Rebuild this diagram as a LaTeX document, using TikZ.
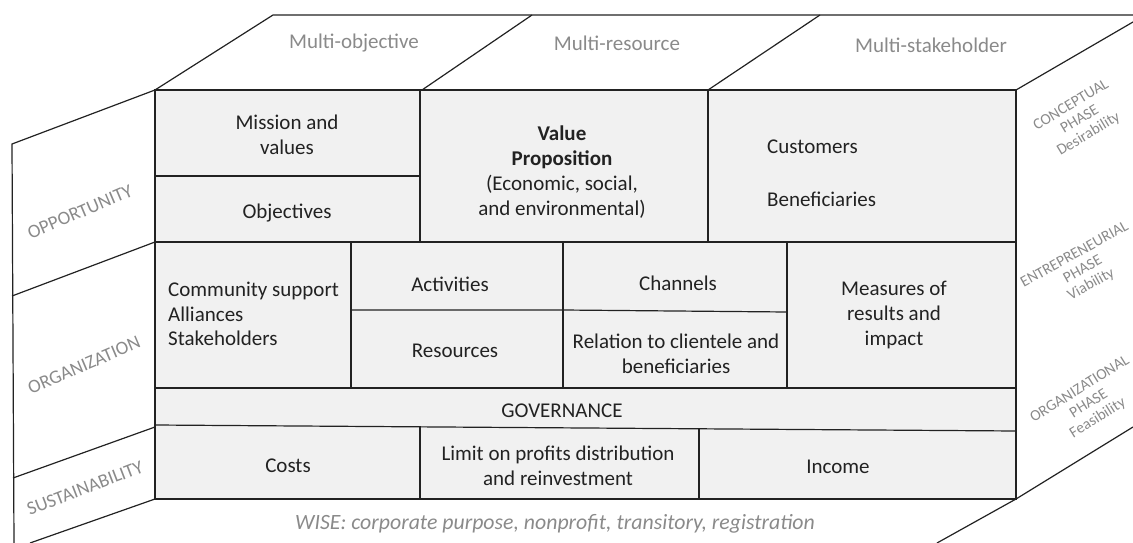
\documentclass[tikz,border=0pt]{standalone}
\usepackage{fontspec}
\setmainfont{Carlito}
\definecolor{cellfill}{HTML}{F1F1F1}
\definecolor{ink}{HTML}{222222}
\definecolor{side}{HTML}{8A8A8A}
\begin{document}
\begin{tikzpicture}[x=1pt,y=-1pt,
  inner line/.style={line width=1.2pt, draw=ink},
  frame line/.style={line width=2.3pt, draw=ink},
  edge line/.style={line width=1.2pt, draw=ink, line join=miter},
  cell/.style={text=ink, font=\fontsize{21}{25}\selectfont, align=center, inner sep=0pt},
  celll/.style={text=ink, font=\fontsize{21}{24.5}\selectfont, align=left, inner sep=0pt},
  toplab/.style={text=side, font=\fontsize{21}{25}\selectfont, inner sep=0pt},
  sidelab/.style={text=side, font=\fontsize{19}{22}\selectfont, inner sep=0pt},
  phase/.style={text=side, font=\fontsize{15.5}{17}\selectfont, align=center, inner sep=0pt},
]
\useasboundingbox (0,0) rectangle (1133,543);
% front face fill
\fill[cellfill] (155,90) rectangle (1016,499);
% top face
\draw[edge line] (155,90) -- (273,15) -- (1133,15);
\draw[edge line] (422,90) -- (532,15);
\draw[edge line] (708,90) -- (820,15);
% right face
\draw[edge line] (1016,90) -- (1133,22);
\draw[edge line] (937,543) -- (1016,499) -- (1133,427);
% left face
\draw[edge line] (155,90) -- (12,144) -- (14,543);
\draw[edge line] (155,242) -- (12,296);
\draw[edge line] (155,427) -- (13,478);
\draw[edge line] (155,499) -- (30,543);
% inner grid
\draw[inner line] (155,176) -- (420,176);
\draw[inner line] (155,242) -- (1016,242);
\draw[inner line] (351,242) -- (351,388);
\draw[inner line] (563,242) -- (563,388);
\draw[inner line] (787,242) -- (787,388);
\draw[inner line] (351,310) -- (563,310) -- (787,312);
\draw[inner line] (155,388) -- (1016,388);
\draw[inner line] (155,425) -- (1016,431);
\draw[inner line] (420,426) -- (420,499);
\draw[inner line] (699,429) -- (699,499);
% value proposition box and frame
\draw[frame line] (420,90) rectangle (708,242);
\draw[frame line] (155,90) rectangle (1016,499);
% top labels
\node[toplab] (mobj) at (354,43) {Multi-objective};
\node[toplab] (mres) at (617,43) {Multi-resource};
\node[toplab] (mstk) at (931,45) {Multi-stakeholder};
% left labels
\node[sidelab, rotate=23] (opp) at (80,212) {OPPORTUNITY};
\node[sidelab, rotate=23] (org) at (84,365) {ORGANIZATION};
\node[sidelab, rotate=21] (sus) at (85,488) {SUSTAINABILITY};
% right labels
\node[phase, rotate=31] (conc) at (1080,120) {CONCEPTUAL\\PHASE\\Desirability};
\node[phase, rotate=29] (entr) at (1083,270) {ENTREPRENEURIAL\\PHASE\\Viability};
\node[phase, rotate=32] (orgp) at (1089,404) {ORGANIZATIONAL\\PHASE\\Feasibility};
% cells
\node[cell] (mission) at (287,135) {Mission and\\values};
\node[cell] (objectives) at (287,213) {Objectives};
\node[cell] (vp) at (562,172) {\textbf{Value}\\\textbf{Proposition}\\(Economic, social,\\and environmental)};
\node[celll, anchor=west] (cust) at (767,147) {Customers};
\node[celll, anchor=west] (benef) at (767,199) {Beneficiaries};
\node[celll, anchor=west] (comm) at (168,314) {Community support\\Alliances\\Stakeholders};
\node[cell] (act) at (450,284) {Activities};
\node[cell] (res) at (455,351) {Resources};
\node[cell] (chan) at (678,283) {Channels};
\node[cell] (rel) at (676,354) {Relation to clientele and\\beneficiaries};
\node[cell] (meas) at (894,315) {Measures of\\results and\\impact};
\node[cell] (gov) at (562,411) {GOVERNANCE};
\node[cell] (costs) at (288,466) {Costs};
\node[cell] (limit) at (558,466) {Limit on profits distribution\\and reinvestment};
\node[cell] (income) at (838,467) {Income};
% bottom note
\node[toplab, font=\fontsize{21.8}{25}\selectfont\itshape] (wise) at (555,524) {WISE: corporate purpose, nonprofit, transitory, registration};
\end{tikzpicture}
\end{document}
